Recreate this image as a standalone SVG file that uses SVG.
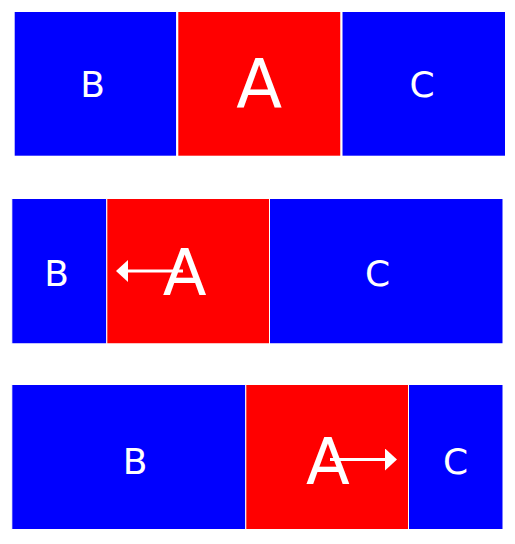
<svg xmlns="http://www.w3.org/2000/svg" width="515" height="544" viewBox="0 0 515 544">
<style>
.blue{fill:#0000ff;}
.red{fill:#ff0000;}
.r1{stroke:#ffffff;stroke-width:2;}
.r2{stroke:#ffffff;stroke-width:1;}
.s{font-family:"DejaVu Sans",sans-serif;font-size:36px;fill:#ffffff;text-anchor:middle;}
.l{font-family:"DejaVu Sans",sans-serif;font-size:64px;fill:#ffffff;text-anchor:middle;}
.arr{stroke:#ffffff;stroke-width:3;fill:none;marker-end:url(#head);}
</style>
<defs>
<marker id="head" viewBox="0 -11 12 22" markerWidth="12" markerHeight="22" markerUnits="userSpaceOnUse" refX="0" refY="0" orient="auto">
<path d="M0,-11 L12,0 L0,11 z" fill="#ffffff"/>
</marker>
</defs>
<rect width="515" height="544" fill="#ffffff"/>
<g id="row1">
<g id="r1-B"><rect class="blue r1" x="13.7" y="11" width="163.5" height="145.7"/><text class="s" x="92.5" y="96.7">B</text></g>
<g id="r1-A"><rect class="red r1" x="177.3" y="11" width="164.2" height="145.7"/><text class="l" x="259.2" y="108.3" style="font-size:67px">A</text></g>
<g id="r1-C"><rect class="blue r1" x="341.5" y="11" width="164.5" height="145.7"/><text class="s" x="422" y="96.5">C</text></g>
</g>
<g id="row2">
<g id="r2-B"><rect class="blue r2" x="11.8" y="198.5" width="95" height="145.3"/><text class="s" x="56.7" y="286">B</text></g>
<g id="r2-A"><rect class="red r2" x="106.8" y="198.5" width="162.7" height="145.3"/><text class="l" x="184.7" y="295">A</text></g>
<g id="r2-C"><rect class="blue r2" x="269.5" y="198.5" width="233.5" height="145.3"/><text class="s" x="377.5" y="286">C</text></g>
</g>
<g id="row3">
<g id="r3-B"><rect class="blue r2" x="11.8" y="384.5" width="234" height="145"/><text class="s" x="135" y="474">B</text></g>
<g id="r3-A"><rect class="red r2" x="245.8" y="384.5" width="162.7" height="145"/><text class="l" x="328" y="484.3">A</text></g>
<g id="r3-C"><rect class="blue r2" x="408.5" y="384.5" width="94.5" height="145"/><text class="s" x="455.5" y="474">C</text></g>
</g>
<g id="connectors">
<line class="arr" x1="183" y1="271" x2="128" y2="271"/>
<line class="arr" x1="330" y1="459.5" x2="385" y2="459.5"/>
</g>
</svg>
